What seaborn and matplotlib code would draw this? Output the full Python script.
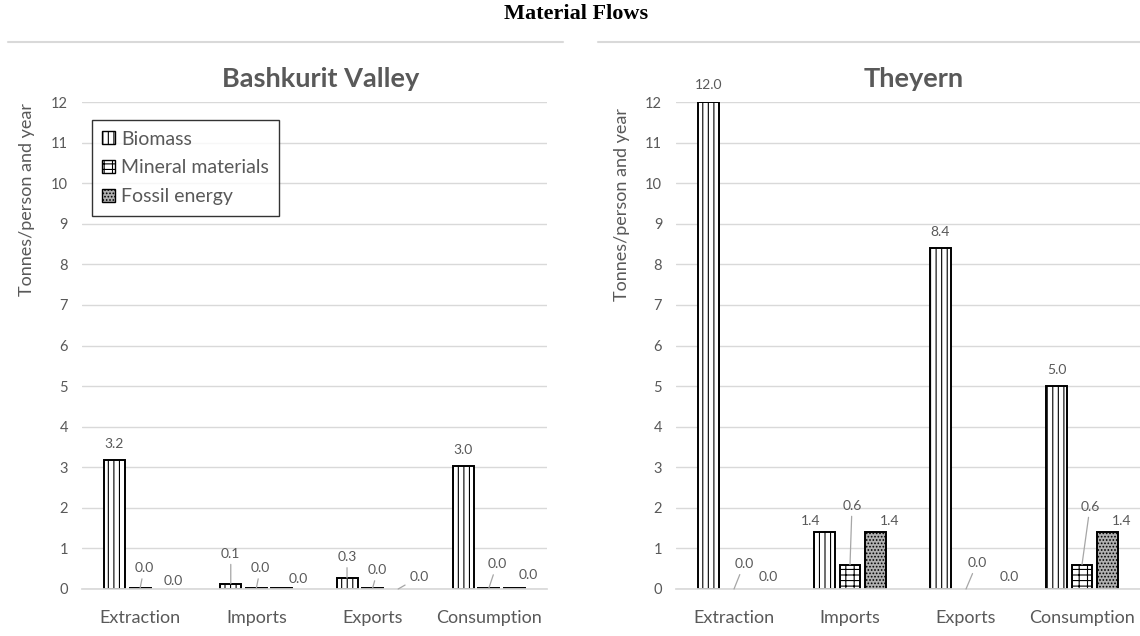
import matplotlib
matplotlib.use('Agg')
import matplotlib.pyplot as plt
from matplotlib.patches import Patch
from matplotlib.lines import Line2D
import seaborn as sns
import pandas as pd

flows = ['Extraction', 'Imports', 'Exports', 'Consumption']
materials = ['Biomass', 'Mineral materials', 'Fossil energy']

# tonnes per person and year
bashkurit_biomass = [3.18, 0.13, 0.27, 3.04]
bashkurit_mineral = [0.02, 0.02, 0.02, 0.02]
bashkurit_fossil = [0.0, 0.02, 0.0, 0.02]

theyern_biomass = [12.0, 1.4, 8.4, 5.0]
theyern_mineral = [0.0, 0.6, 0.0, 0.6]
theyern_fossil = [0.0, 1.4, 0.0, 1.4]

hatches = {'Biomass': '|||', 'Mineral materials': '-++', 'Fossil energy': '.....'}
faces = {'Biomass': 'white', 'Mineral materials': 'white', 'Fossil energy': '#b0b0b0'}

# where excel put the data labels: (dx, dy) pixels from the bar top, leader line
left_labels = {
    'Biomass': [(0, 16, False), (0, 30, True), (0, 21, True), (0, 16, False)],
    'Mineral materials': [(4, 20, True), (4, 20, True), (5, 18, True), (8, 24, True)],
    'Fossil energy': [(8, 8, False), (16, 9, False), (21, 12, True), (14, 13, False)],
}
right_labels = {
    'Biomass': [(0, 17, False), (-14, 11, False), (0, 16, False), (0, 16, False)],
    'Mineral materials': [(10, 25, True), (2, 59, True), (11, 26, True), (8, 58, True)],
    'Fossil energy': [(9, 12, False), (14, 11, False), (18, 12, False), (14, 11, False)],
}

grey = '#595959'


def make_frame(bio, mineral, fossil):
    return pd.DataFrame({
        'flow': flows * 3,
        'material': [m for m in materials for _ in flows],
        'value': bio + mineral + fossil,
    })


def draw_panel(ax, df, title, labels):
    sns.barplot(data=df, x='flow', y='value', hue='material', order=flows,
                hue_order=materials, palette=['white'] * 3, width=0.66, gap=0.18,
                edgecolor='black', linewidth=1.4, errorbar=None, legend=False,
                saturation=1, ax=ax)
    for mat, cont in zip(materials, ax.containers):
        for bar in cont.patches:
            bar.set_hatch(hatches[mat])
            bar.set_facecolor(faces[mat])
            bar.set_edgecolor('black')
            h = bar.get_height()
            if h == 0:
                bar.set_linewidth(0)
            xc = bar.get_x() + bar.get_width() / 2
            dx, dy, leader = labels[mat][int(round(xc))]
            props = None
            if leader:
                props = dict(arrowstyle='-', color='#a6a6a6', lw=0.9, shrinkA=1, shrinkB=0)
            ax.annotate(f'{h:.1f}', xy=(xc, h), xytext=(dx, dy), textcoords='offset pixels',
                        ha='center', va='center', fontsize=10, color=grey,
                        arrowprops=props, annotation_clip=False)

    ax.set_xlim(-0.5, 3.5)
    ax.set_ylim(0, 12)
    ax.set_yticks(range(0, 13))
    ax.grid(axis='y', color='#d9d9d9', lw=1)
    ax.set_axisbelow(True)
    for s in ['top', 'left', 'right']:
        ax.spines[s].set_visible(False)
    ax.spines['bottom'].set_color('#d9d9d9')
    ax.tick_params(axis='x', length=0, pad=15, labelsize=13, labelcolor=grey)
    ax.tick_params(axis='y', length=0, pad=10, labelsize=10.5, labelcolor=grey)
    ax.set_xlabel('')
    ax.set_ylabel('Tonnes/person and year', fontsize=13, color=grey)
    ax.set_title(title, fontsize=19.5, fontweight='bold', color=grey, pad=11, x=0.513)


sns.set_theme(style='white')
plt.rcParams['font.family'] = ['Lato', 'DejaVu Sans']
plt.rcParams['hatch.linewidth'] = 0.8

fig = plt.figure(figsize=(11.4, 6.36), dpi=100)
ax1 = fig.add_axes([0.0719, 0.0739, 0.4079, 0.7657])
ax2 = fig.add_axes([0.593, 0.0739, 0.407, 0.7657])

draw_panel(ax1, make_frame(bashkurit_biomass, bashkurit_mineral, bashkurit_fossil),
           'Bashkurit Valley', left_labels)
draw_panel(ax2, make_frame(theyern_biomass, theyern_mineral, theyern_fossil),
           'Theyern', right_labels)

ax1.yaxis.set_label_coords(-0.10, 0.80)
ax2.yaxis.set_label_coords(-0.10, 0.79)

handles = [Patch(facecolor=faces[m], edgecolor='black', hatch=hatches[m], label=m)
           for m in materials]
leg = ax1.legend(handles=handles, loc='upper left', bbox_to_anchor=(0.021, 0.963),
                 borderaxespad=0, fontsize=14, frameon=True, fancybox=False,
                 handlelength=0.65, handleheight=0.65, handletextpad=0.3,
                 labelspacing=0.6, borderpad=0.55, labelcolor=grey)
leg.get_frame().set_edgecolor('black')
leg.get_frame().set_linewidth(1)

fig.text(0.505, 1 - 14 / 636, 'Material Flows', ha='center', va='center',
         fontsize=16, fontweight='bold', family='Liberation Serif', color='black')
fig.add_artist(Line2D([8 / 1140, 563 / 1140], [1 - 42 / 636] * 2, color='#d9d9d9', lw=1.5))
fig.add_artist(Line2D([598 / 1140, 1.0], [1 - 42 / 636] * 2, color='#d9d9d9', lw=1.5))

fig.savefig('out.png', dpi=100)
